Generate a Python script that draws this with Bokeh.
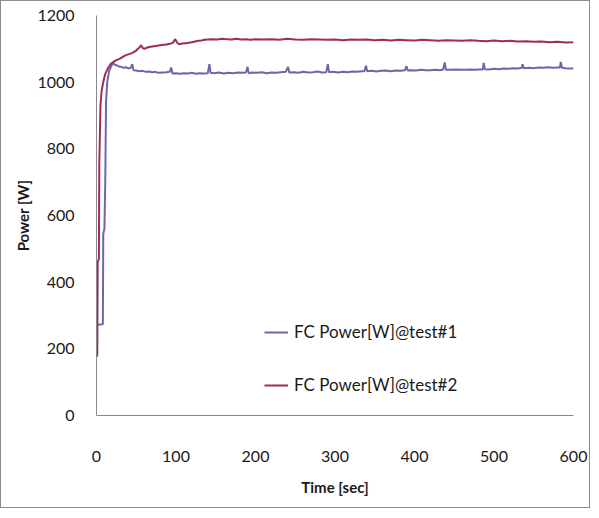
from bokeh.plotting import figure
from bokeh.models import Range1d, Legend, LegendItem
from bokeh.embed import file_html
from bokeh.resources import INLINE

# ---- data ----
time1 = [0, 8, 8.5, 10, 11, 12, 13.5, 16, 19, 21, 23, 26, 28, 31, 34, 37, 40, 43, 45, 46.5,
         50, 54, 58, 62, 66, 70, 74, 78, 83, 88, 92, 94, 95.5, 100, 105, 110, 115, 120, 125,
         130, 135, 140, 142, 143.5, 148, 154, 160, 166, 172, 178, 184, 188, 190, 191.5, 196,
         202, 208, 214, 220, 226, 232, 238, 241, 242.5, 248, 254, 260, 266, 272, 278, 284,
         289, 291, 292.5, 298, 304, 310, 316, 322, 328, 334, 337, 339, 340.5, 346, 352, 358,
         364, 370, 376, 382, 388, 390, 391.5, 396, 402, 408, 414, 420, 426, 432, 436, 438,
         439.5, 446, 452, 458, 464, 470, 476, 482, 486, 487, 488.5, 494, 500, 506, 512, 518,
         524, 530, 535, 536, 537.5, 544, 550, 556, 562, 568, 574, 580, 583, 584, 585.5, 590,
         596, 600]
power1 = [272, 274, 545, 560, 700, 940, 1000, 1035, 1050, 1058, 1052, 1050, 1047, 1046, 1043,
          1045, 1041, 1043, 1054, 1036, 1035, 1033, 1034, 1031, 1032, 1030, 1031, 1028, 1029,
          1030, 1031, 1044, 1026, 1027, 1025, 1027, 1026, 1028, 1025, 1027, 1026, 1027, 1054,
          1028, 1027, 1029, 1026, 1028, 1027, 1029, 1028, 1029, 1046, 1027, 1029, 1028, 1030,
          1027, 1029, 1028, 1030, 1031, 1046, 1029, 1030, 1028, 1031, 1029, 1030, 1032, 1029,
          1030, 1054, 1030, 1031, 1029, 1031, 1030, 1032, 1031, 1033, 1033, 1049, 1033, 1034,
          1032, 1034, 1035, 1033, 1035, 1034, 1036, 1048, 1035, 1036, 1035, 1037, 1036, 1036,
          1037, 1036, 1038, 1059, 1037, 1037, 1038, 1037, 1037, 1038, 1037, 1038, 1038, 1058,
          1039, 1038, 1040, 1039, 1041, 1040, 1042, 1041, 1043, 1054, 1042, 1043, 1042, 1044,
          1043, 1045, 1043, 1044, 1044, 1061, 1043, 1042, 1041, 1041]

time2 = [0, 1, 1.5, 3, 3.5, 5, 6.5, 8.5, 11, 14, 18, 21, 25, 29, 33, 37, 41, 45, 49, 52, 54,
         56, 58, 60, 64, 68, 72, 76, 80, 84, 88, 92, 96, 99, 102, 104, 108, 112, 116, 120,
         124, 128, 132, 136, 140, 146, 152, 158, 164, 170, 176, 182, 188, 194, 200, 210, 220,
         230, 240, 250, 260, 270, 280, 290, 300, 310, 320, 330, 340, 350, 360, 370, 380, 390,
         400, 410, 420, 430, 440, 450, 460, 470, 480, 490, 500, 510, 520, 530, 540, 550, 560,
         570, 580, 590, 600]
power2 = [178, 180, 460, 470, 750, 930, 975, 1000, 1025, 1040, 1055, 1060, 1066, 1070, 1076,
          1081, 1084, 1088, 1093, 1100, 1104, 1111, 1103, 1100, 1104, 1106, 1108, 1109, 1111,
          1112, 1113, 1115, 1118, 1129, 1117, 1114, 1116, 1117, 1118, 1120, 1122, 1124, 1125,
          1127, 1128, 1129, 1128, 1130, 1129, 1128, 1130, 1128, 1129, 1127, 1129, 1128, 1129,
          1127, 1130, 1128, 1127, 1129, 1128, 1127, 1128, 1126, 1128, 1127, 1128, 1126, 1127,
          1125, 1127, 1126, 1125, 1127, 1126, 1124, 1126, 1125, 1124, 1126, 1124, 1123, 1125,
          1123, 1124, 1122, 1123, 1121, 1122, 1120, 1121, 1119, 1120]

series_labels = ["FC Power[W]@test#1", "FC Power[W]@test#2"]
x_ticks = [0, 100, 200, 300, 400, 500, 600]
y_ticks = [0, 200, 400, 600, 800, 1000, 1200]

FONT = "Lato"
TXT = "#1a1a1a"

p = figure(width=590, height=508, output_backend="svg", toolbar_location=None,
           x_range=Range1d(0, 600), y_range=Range1d(0, 1200),
           min_border_left=95, min_border_right=18, min_border_top=14, min_border_bottom=94,
           styles={"border": "1px solid #8c8c8c"})
p.outline_line_color = None
p.grid.visible = False

for ax in (p.xaxis[0], p.yaxis[0]):
    ax.axis_line_color = "#8a8a8a"
    ax.axis_line_width = 1
    ax.major_tick_line_color = None
    ax.minor_tick_line_color = None
    ax.major_label_text_font = FONT
    ax.major_label_text_font_size = "16px"
    ax.major_label_text_color = TXT
    ax.axis_label_text_font = FONT
    ax.axis_label_text_font_size = "15px"
    ax.axis_label_text_font_style = "bold"
    ax.axis_label_text_color = TXT

p.xaxis.ticker = x_ticks
p.yaxis.ticker = y_ticks
p.xaxis.axis_label = "Time [sec]"
p.yaxis.axis_label = "Power [W]"
p.xaxis.major_label_standoff = 29
p.xaxis.axis_label_standoff = 13
p.yaxis.major_label_standoff = 16
p.yaxis.axis_label_standoff = 2

r1 = p.line(time1, power1, line_color="#6A69A6", line_width=2)
r2 = p.line(time2, power2, line_color="#A02B5D", line_width=2)

legend = Legend(items=[LegendItem(label=series_labels[0], renderers=[r1]),
                       LegendItem(label=series_labels[1], renderers=[r2])],
                location=(168, 20), orientation="vertical",
                background_fill_alpha=0, border_line_color=None,
                padding=0, margin=0, spacing=32, label_height=20, glyph_height=20,
                glyph_width=24, label_standoff=6,
                label_text_font=FONT, label_text_font_size="17px", label_text_color=TXT)
p.add_layout(legend, "center")

open("out.html", "w").write(file_html(p, INLINE))
